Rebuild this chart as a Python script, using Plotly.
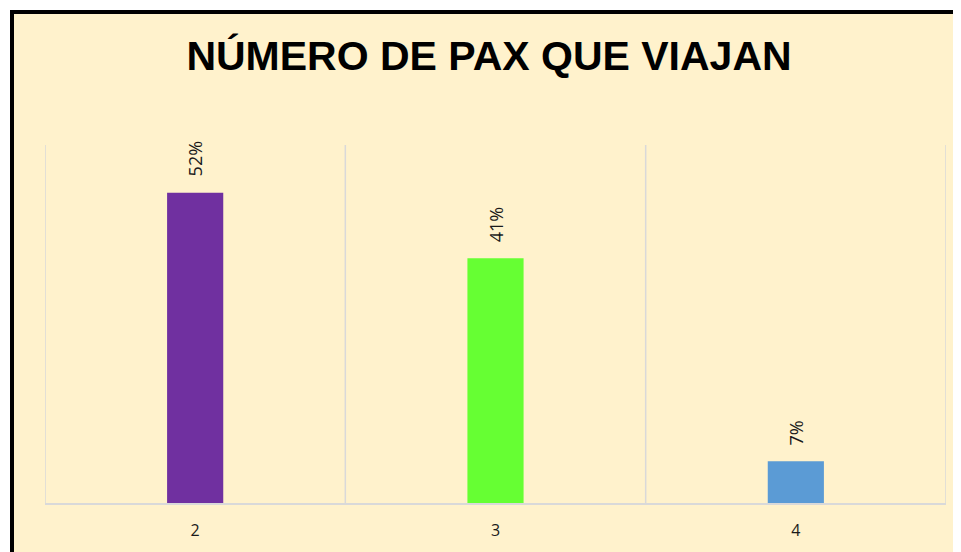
import plotly.graph_objects as go

categories = ["2", "3", "4"]
values = [52, 41, 7]
labels = ["52%", "41%", "7%"]
bar_colors = ["#7030A0", "#66FF33", "#5B9BD5"]
title_text = "NÚMERO DE PAX QUE VIAJAN"

OFF = 8  # page body offset
W, H = 961 - 2 * OFF, 552
ML, MT = 45 - OFF, 145 - OFF
MR = W - (946 - OFF)
MB = H - (503 - OFF)
pw = W - ML - MR
ph = H - MT - MB

def px_x(p):
    return (p - OFF - ML) / pw

def px_y(p):
    return (H - MB - (p - OFF)) / ph

fig = go.Figure()
fig.add_trace(go.Bar(
    x=categories, y=values, marker=dict(color=bar_colors, line=dict(width=0)),
    width=0.187, hoverinfo="skip"
))

shapes = [
    dict(type="rect", xref="paper", yref="paper",
         x0=px_x(12), x1=px_x(1010), y0=px_y(620), y1=px_y(12),
         fillcolor="#FFF2CC", line=dict(color="black", width=4), layer="below"),
]
for i in range(len(categories) + 1):
    shapes.append(dict(type="line", xref="x", yref="paper", x0=i - 0.5, x1=i - 0.5,
                       y0=0, y1=1, line=dict(color="#D9D9D9", width=1.5), layer="below"))

annotations = []
for i, (v, t) in enumerate(zip(values, labels)):
    annotations.append(dict(x=i, y=v, xref="x", yref="y", text=t, textangle=-90, showarrow=False,
                            xanchor="center", yanchor="bottom", yshift=14,
                            font=dict(family="Open Sans, Liberation Sans", size=18, color="#1a1a1a")))

fig.update_layout(
    width=W, height=H,
    margin=dict(l=ML, r=MR, t=MT, b=MB),
    paper_bgcolor="white", plot_bgcolor="rgba(0,0,0,0)",
    title=dict(text="<b>" + title_text + "</b>", x=(489 - OFF) / W, xanchor="center",
               y=1 - (56 - OFF) / H, yanchor="middle",
               font=dict(family="Liberation Sans, Arial", size=41, color="black")),
    shapes=shapes, annotations=annotations,
    showlegend=False, bargap=0.8,
    xaxis=dict(type="category", range=[-0.5, 2.5], showgrid=False, showline=True,
               linecolor="#D9D9D9", linewidth=1.5, ticks="", ticklabelstandoff=12,
               tickfont=dict(family="Open Sans, Liberation Sans", size=16, color="#1a1a1a")),
    yaxis=dict(range=[0, 60], visible=False, showgrid=False, zeroline=False),
)
fig.write_html("out.html")
